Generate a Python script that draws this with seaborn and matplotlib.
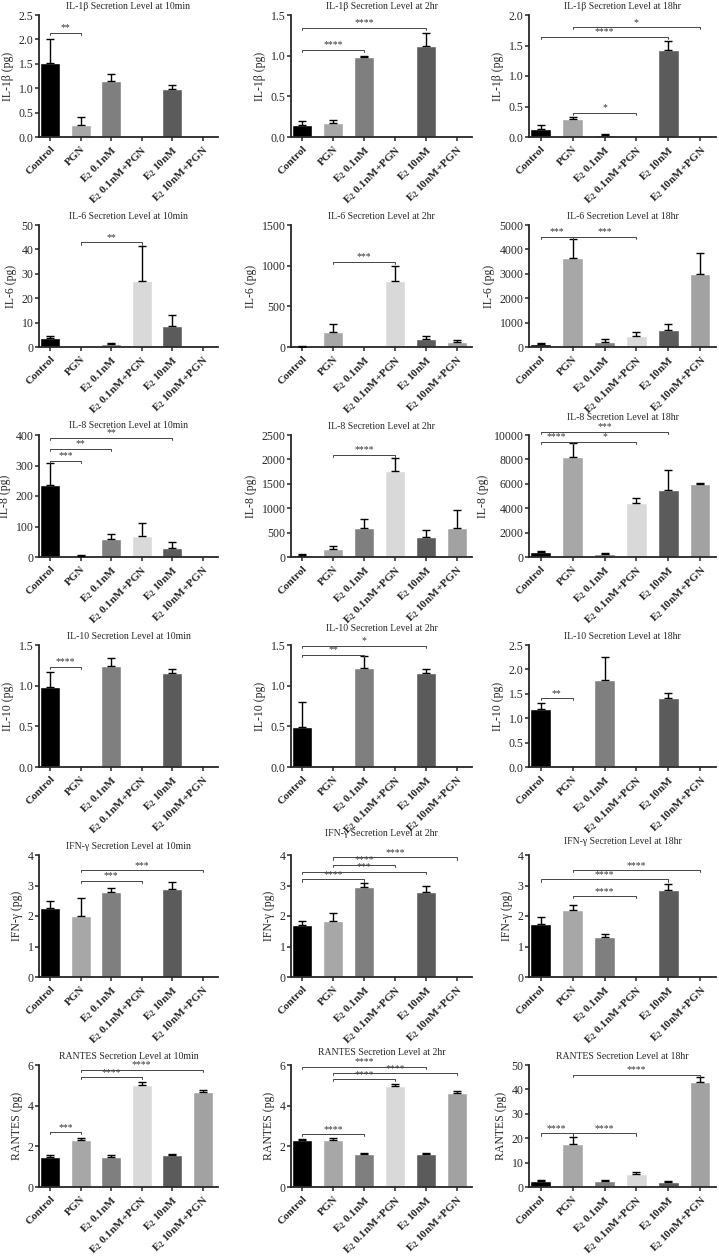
import matplotlib
matplotlib.use('Agg')
import matplotlib.pyplot as plt
import seaborn as sns
import numpy as np

# ---------------- data ----------------
groups = ['Control', 'PGN', 'E2 0.1nM', 'E2 0.1nM+PGN', 'E2 10nM', 'E2 10nM+PGN']
tick_labels = ['Control', 'PGN', r'$\mathbf{E_2}$ 0.1nM', r'$\mathbf{E_2}$ 0.1nM+PGN',
               r'$\mathbf{E_2}$ 10nM', r'$\mathbf{E_2}$ 10nM+PGN']
colors = ['#000000', '#a7a7a7', '#7f7f7f', '#d9d9d9', '#5b5b5b', '#a2a2a2']
times = ['10min', '2hr', '18hr']

# IL-1beta
il1b_10min = [1.52, 0.24, 1.14, 0, 0.98, 0]
il1b_10min_err = [0.48, 0.18, 0.16, 0, 0.09, 0]
il1b_2hr = [0.15, 0.17, 0.98, 0, 1.12, 0]
il1b_2hr_err = [0.05, 0.04, 0.02, 0, 0.16, 0]
il1b_18hr = [0.13, 0.29, 0.03, 0, 1.42, 0]
il1b_18hr_err = [0.06, 0.04, 0.02, 0, 0.15, 0]
# IL-6
il6_10min = [3.7, 0.3, 1.3, 27.0, 8.5, 0]
il6_10min_err = [0.9, 0, 0.3, 14.5, 4.7, 0]
il6_2hr = [5, 185, 0, 810, 100, 60]
il6_2hr_err = [5, 95, 0, 180, 35, 25]
il6_18hr = [130, 3650, 200, 460, 700, 3000]
il6_18hr_err = [30, 770, 120, 140, 250, 850]
# IL-8
il8_10min = [235, 3, 60, 68, 31, 0]
il8_10min_err = [73, 4, 16, 44, 17, 0]
il8_2hr = [45, 165, 590, 1770, 415, 600]
il8_2hr_err = [20, 60, 185, 260, 135, 360]
il8_18hr = [380, 8200, 230, 4430, 5530, 5950]
il8_18hr_err = [140, 1150, 80, 400, 1570, 130]
# IL-10
il10_10min = [0.98, 0, 1.24, 0, 1.15, 0]
il10_10min_err = [0.19, 0, 0.10, 0, 0.06, 0]
il10_2hr = [0.49, 0, 1.22, 0, 1.15, 0]
il10_2hr_err = [0.31, 0, 0.14, 0, 0.05, 0]
il10_18hr = [1.18, 0, 1.78, 0, 1.42, 0]
il10_18hr_err = [0.14, 0, 0.47, 0, 0.09, 0]
# IFN-gamma
ifng_10min = [2.25, 2.0, 2.8, 0, 2.9, 0]
ifng_10min_err = [0.25, 0.6, 0.12, 0, 0.2, 0]
ifng_2hr = [1.7, 1.85, 2.95, 0, 2.8, 0]
ifng_2hr_err = [0.15, 0.25, 0.12, 0, 0.2, 0]
ifng_18hr = [1.75, 2.2, 1.3, 0, 2.85, 0]
ifng_18hr_err = [0.22, 0.15, 0.1, 0, 0.2, 0]
# RANTES
rantes_10min = [1.5, 2.3, 1.5, 5.0, 1.55, 4.65]
rantes_10min_err = [0.08, 0.1, 0.06, 0.18, 0.08, 0.1]
rantes_2hr = [2.3, 2.33, 1.6, 4.95, 1.6, 4.6]
rantes_2hr_err = [0.05, 0.1, 0.08, 0.1, 0.08, 0.12]
rantes_18hr = [2.5, 17.5, 2.5, 5.5, 2.0, 43.0]
rantes_18hr_err = [0.5, 3.0, 0.4, 0.5, 0.3, 2.0]

# significance brackets: (group i, group j, height, label)
il1b_10min_sig = [(0, 1, 2.13, '**')]
il1b_2hr_sig = [(0, 2, 1.07, '****'), (0, 4, 1.34, '****')]
il1b_18hr_sig = [(1, 3, 0.40, '*'), (0, 4, 1.64, '****'), (1, 5, 1.80, '*')]
il6_10min_sig = [(1, 3, 42.9, '**')]
il6_2hr_sig = [(1, 3, 1050, '***')]
il6_18hr_sig = [(0, 1, 4510, '***'), (1, 3, 4510, '***')]
il8_10min_sig = [(0, 1, 315, '***'), (0, 2, 354, '**'), (0, 4, 390, '**')]
il8_2hr_sig = [(1, 3, 2090, '****')]
il8_18hr_sig = [(0, 1, 9450, '****'), (1, 3, 9450, '*'), (0, 4, 10270, '***')]
il10_10min_sig = [(0, 1, 1.23, '****')]
il10_2hr_sig = [(0, 2, 1.38, '**'), (0, 4, 1.49, '*')]
il10_18hr_sig = [(0, 1, 1.41, '**')]
ifng_10min_sig = [(1, 3, 3.15, '***'), (1, 5, 3.5, '***')]
ifng_2hr_sig = [(0, 2, 3.2, '****'), (0, 4, 3.45, '***'), (1, 3, 3.68, '****'), (1, 5, 3.92, '****')]
ifng_18hr_sig = [(1, 3, 2.65, '****'), (0, 4, 3.2, '****'), (1, 5, 3.5, '****')]
rantes_10min_sig = [(0, 1, 2.7, '***'), (1, 3, 5.4, '****'), (1, 5, 5.75, '****')]
rantes_2hr_sig = [(0, 2, 2.6, '****'), (1, 3, 5.3, '****'), (1, 5, 5.6, '****'), (0, 4, 5.9, '****')]
rantes_18hr_sig = [(0, 1, 22, '****'), (1, 3, 22, '****'), (1, 5, 46, '****')]

cytokines = ['IL-1β', 'IL-6', 'IL-8', 'IL-10', 'IFN-γ', 'RANTES']
ylims = [[2.5, 1.5, 2.0], [50, 1500, 5000], [400, 2500, 10000],
         [1.5, 1.5, 2.5], [4, 4, 4], [6, 6, 50]]
ysteps = [[0.5, 0.5, 0.5], [10, 500, 1000], [100, 500, 2000],
          [0.5, 0.5, 0.5], [1, 1, 1], [2, 2, 10]]
title_pads = [[4, 4, 4], [4, 4, 4], [5, 4, 11], [4, 10, 4], [4, 14, 8], [4, 7, 4]]
panel_means = [[il1b_10min, il1b_2hr, il1b_18hr], [il6_10min, il6_2hr, il6_18hr],
               [il8_10min, il8_2hr, il8_18hr], [il10_10min, il10_2hr, il10_18hr],
               [ifng_10min, ifng_2hr, ifng_18hr], [rantes_10min, rantes_2hr, rantes_18hr]]
panel_errs = [[il1b_10min_err, il1b_2hr_err, il1b_18hr_err], [il6_10min_err, il6_2hr_err, il6_18hr_err],
              [il8_10min_err, il8_2hr_err, il8_18hr_err], [il10_10min_err, il10_2hr_err, il10_18hr_err],
              [ifng_10min_err, ifng_2hr_err, ifng_18hr_err], [rantes_10min_err, rantes_2hr_err, rantes_18hr_err]]
panel_sigs = [[il1b_10min_sig, il1b_2hr_sig, il1b_18hr_sig], [il6_10min_sig, il6_2hr_sig, il6_18hr_sig],
              [il8_10min_sig, il8_2hr_sig, il8_18hr_sig], [il10_10min_sig, il10_2hr_sig, il10_18hr_sig],
              [ifng_10min_sig, ifng_2hr_sig, ifng_18hr_sig], [rantes_10min_sig, rantes_2hr_sig, rantes_18hr_sig]]

# ---------------- style ----------------
sns.set_style('ticks')
plt.rcParams['font.family'] = ['Liberation Serif', 'DejaVu Serif']
plt.rcParams['mathtext.fontset'] = 'custom'
plt.rcParams['mathtext.rm'] = 'Liberation Serif'
plt.rcParams['mathtext.bf'] = 'Liberation Serif:bold'
plt.rcParams['axes.linewidth'] = 1.3

W, H = 719, 1258
fig = plt.figure(figsize=(W / 100, H / 100), dpi=100)
fig.patch.set_facecolor('white')

col_left = [39, 291, 529]
col_right = [218, 472, 716]
row_pitch = 210
ax_top, ax_bot = 15, 137

for r in range(6):
    for c in range(3):
        l, rr = col_left[c], col_right[c]
        t, b = ax_top + r * row_pitch, ax_bot + r * row_pitch
        ax = fig.add_axes([l / W, 1 - b / H, (rr - l) / W, (b - t) / H])
        means = panel_means[r][c]
        errs = panel_errs[r][c]
        sns.barplot(x=groups, y=means, hue=groups, palette=colors, width=0.65,
                    saturation=1, legend=False, errorbar=None, ax=ax, order=groups)
        xs = [g for g, e in zip(groups, errs) if e > 0]
        ms = [m for m, e in zip(means, errs) if e > 0]
        es = [e for e in errs if e > 0]
        ax.errorbar(xs, ms, yerr=[np.zeros(len(es)), es], fmt='none', ecolor='black',
                    elinewidth=1.0, capsize=2.6, capthick=1.0, zorder=3)
        ymax = ylims[r][c]
        ax.set_ylim(0, ymax)
        ax.set_xlim(-0.37, 5.5)
        step = ysteps[r][c]
        ticks = np.arange(0, ymax + step / 2, step)
        ax.set_yticks(ticks)
        if step < 1:
            ax.set_yticklabels([f'{v:.1f}' for v in ticks])
        else:
            ax.set_yticklabels([f'{int(round(v))}' for v in ticks])
        ax.set_xticks(range(6))
        ax.set_xticklabels(tick_labels, rotation=45, ha='right', rotation_mode='anchor',
                           fontweight='bold', fontsize=8)
        ax.tick_params(axis='y', labelsize=8.5, length=3, width=1.1, pad=1)
        ax.tick_params(axis='x', length=3, width=1.1, pad=2)
        ax.set_ylabel(f'{cytokines[r]} (pg)', fontsize=8.5, labelpad=3)
        ax.set_xlabel('')
        ax.set_title(f'{cytokines[r]} Secretion Level at {times[c]}', fontsize=7,
                     pad=title_pads[r][c])
        sns.despine(ax=ax)
        tick_h = ymax * 0.018
        for (i, j, y, lab) in panel_sigs[r][c]:
            ax.plot([i, i, j, j], [y - tick_h, y, y, y - tick_h], color='#444444',
                    lw=0.7, clip_on=False, zorder=4)
            ax.text((i + j) / 2, y + ymax * 0.004, lab, ha='center', va='bottom',
                    fontsize=7, color='#333333', clip_on=False)

fig.savefig('out.png', dpi=100, facecolor='white')
